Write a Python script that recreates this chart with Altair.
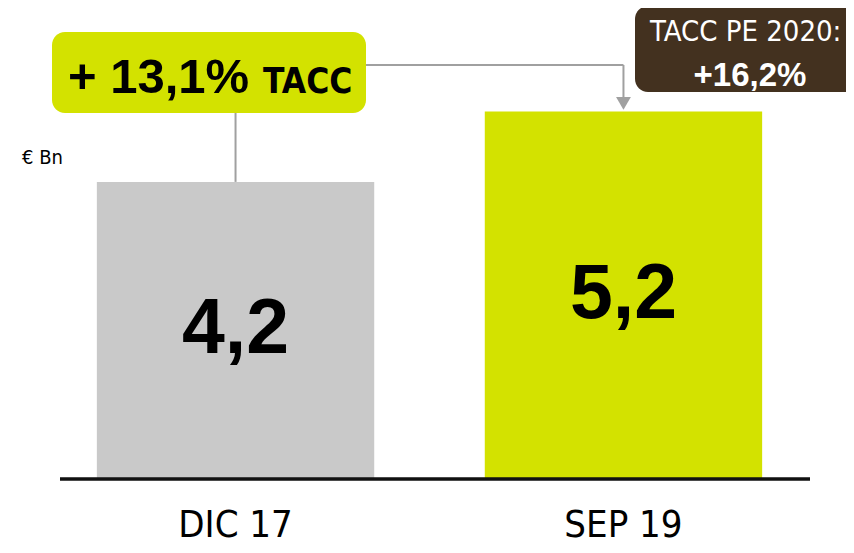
import altair as alt
import pandas as pd

categories = ["DIC 17", "SEP 19"]
values = [4.2, 5.2]
bar_colors = ["#c9c9c9", "#d3e200"]
value_labels = ["4,2", "5,2"]
unit_label = "€ Bn"
cagr_main = "+ 13,1%"
cagr_suffix = "TACC"
plan_title = "TACC PE 2020:"
plan_value = "+16,2%"

NARROW = "DejaVu Sans Condensed, DejaVu Sans, sans-serif"
WIDE = "Liberation Sans, Arial, sans-serif"

OX, OY = 60, 12  # page position of the plot origin


def px(x):
    return x - OX


def py(y):
    return y - OY


df = pd.DataFrame({"cat": categories, "val": values, "color": bar_colors, "lab": value_labels})

W, H = 750, 466
xs = alt.Scale(domain=categories, range=[0, 739], paddingInner=0.285, paddingOuter=0.095)
ys = alt.Scale(domain=[0, 6.61], range=[H, 0], nice=False, zero=True)

base = alt.Chart(df)

bars = base.mark_bar().encode(
    x=alt.X("cat:N", scale=xs, sort=categories,
            axis=alt.Axis(title=None, domain=False, ticks=False, tickSize=0, labelAngle=0,
                          labelFont=NARROW, labelFontSize=38, labelColor="#000000",
                          labelPadding=58, labelBaseline="alphabetic")),
    y=alt.Y("val:Q", scale=ys, axis=None),
    color=alt.Color("color:N", scale=None),
)

baseline = base.mark_rule(color="#111111", strokeWidth=3).encode(
    x=alt.value(0), x2=alt.value(W), y=alt.value(H + 1)
)

value_text = base.transform_calculate(mid="datum.val / 2").mark_text(
    font=WIDE, fontWeight="bold", fontSize=77, color="#000000", baseline="middle", align="center"
).encode(
    x=alt.X("cat:N", scale=xs, sort=categories),
    y=alt.Y("mid:Q", scale=ys),
    text="lab:N",
)

conn_color = "#a0a0a0"

conn1 = base.transform_filter(alt.datum.cat == categories[0]).mark_rule(
    color=conn_color, strokeWidth=2
).encode(
    x=alt.X("cat:N", scale=xs, sort=categories),
    y=alt.Y("val:Q", scale=ys),
    y2=alt.value(py(113)),
)

conn2 = base.transform_filter(alt.datum.cat == categories[1]).mark_rule(
    color=conn_color, strokeWidth=2
).encode(
    x=alt.X("cat:N", scale=xs, sort=categories),
    x2=alt.value(px(366)),
    y=alt.value(py(65)),
)

conn3 = base.transform_filter(alt.datum.cat == categories[1]).mark_rule(
    color=conn_color, strokeWidth=2, yOffset=-10
).encode(
    x=alt.X("cat:N", scale=xs, sort=categories),
    y=alt.Y("val:Q", scale=ys),
    y2=alt.value(py(65)),
)

arrow = base.transform_filter(alt.datum.cat == categories[1]).mark_point(
    shape="triangle-down", filled=True, color=conn_color, opacity=1, size=220, yOffset=-8
).encode(
    x=alt.X("cat:N", scale=xs, sort=categories),
    y=alt.Y("val:Q", scale=ys),
)

one = alt.Chart(pd.DataFrame({"k": [0]}))

green_box = one.mark_rect(color="#d3e200", cornerRadius=13).encode(
    x=alt.value(px(52)), x2=alt.value(px(366)), y=alt.value(py(32)), y2=alt.value(py(113))
)
green_t1 = one.mark_text(font=WIDE, fontWeight="bold", fontSize=49, color="#000000",
                         align="left", baseline="alphabetic", text=cagr_main).encode(
    x=alt.value(px(68)), y=alt.value(py(93))
)
green_t2 = one.mark_text(font=NARROW, fontWeight="bold", fontSize=35, color="#000000",
                         align="left", baseline="alphabetic", text=cagr_suffix).encode(
    x=alt.value(px(263)), y=alt.value(py(93))
)

brown_box = one.mark_rect(color="#43311f", cornerRadius=13).encode(
    x=alt.value(px(635)), x2=alt.value(px(900)), y=alt.value(py(6)), y2=alt.value(py(92))
)
brown_t1 = one.mark_text(font=NARROW, fontSize=29, color="#ffffff",
                         align="left", baseline="alphabetic", text=plan_title).encode(
    x=alt.value(px(650)), y=alt.value(py(41))
)
brown_t2 = one.mark_text(font=WIDE, fontWeight="bold", fontSize=33, color="#ffffff",
                         align="center", baseline="alphabetic", text=plan_value).encode(
    x=alt.value(px(750)), y=alt.value(py(86))
)

unit = one.mark_text(font=NARROW, fontSize=20, color="#000000",
                     align="left", baseline="alphabetic", text=unit_label).encode(
    x=alt.value(px(22)), y=alt.value(py(164))
)

chart = alt.layer(
    bars, baseline, value_text, conn1, conn2, conn3, arrow,
    green_box, green_t1, green_t2, brown_box, brown_t1, brown_t2, unit
).properties(
    width=W, height=H,
    background="#ffffff",
    autosize=alt.AutoSizeParams(type="none"),
    padding={"left": 52, "top": 4, "right": 36, "bottom": 67},
).configure_view(strokeWidth=0, stroke="transparent")

chart.save("out.html", embed_options={"renderer": "svg", "actions": False})
